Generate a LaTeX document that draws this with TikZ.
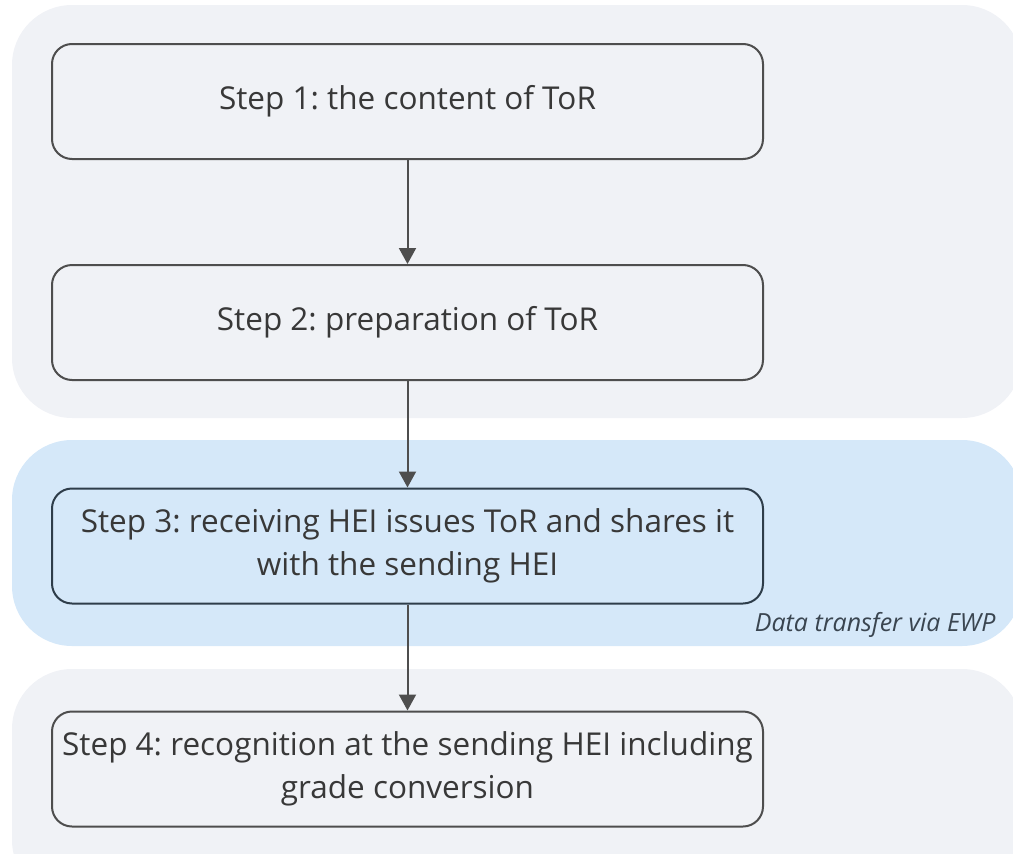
\documentclass[tikz,border=0pt]{standalone}
\usepackage{fontspec}
\setmainfont{Open Sans}
\frenchspacing
\usetikzlibrary{arrows.meta}
\definecolor{panelgray}{HTML}{F0F2F6}
\definecolor{panelblue}{HTML}{D5E8F9}
\definecolor{boxline}{HTML}{4E4E4E}
\definecolor{boxlineblue}{HTML}{2E3D4A}
\definecolor{steptext}{HTML}{383838}
\definecolor{notetext}{HTML}{3A4550}
\begin{document}
\begin{tikzpicture}[x=1pt, y=1pt, node distance=222pt, stepbox/.style={rectangle, rounded corners=20pt, draw=boxline, line width=2pt, minimum width=711pt, minimum height=115pt, align=center, text=steptext, font={\fontsize{31.5}{43}\selectfont}}, panel/.style={rounded corners=60pt}, flow/.style={draw=boxline, line width=2pt, -{Triangle[width=17pt, length=16pt]}}]
  \useasboundingbox (0,0) rectangle (1013,-854);

  % background panels
  \fill[panel, panelgray] (12,-5) rectangle (1022,-418);
  \fill[panel, panelblue] (12,-440) rectangle (1022,-646);
  \fill[panel, panelgray] (12,-669) rectangle (1022,-900);

  \node[stepbox, fill=panelgray] (tor1) at (407.5,-101.5) {Step 1: the content of ToR};
  \node[stepbox, fill=panelgray, below of=tor1, node distance=221pt] (tor2) {Step 2: preparation of ToR};
  \node[stepbox, fill=panelblue, draw=boxlineblue, below of=tor2, node distance=223.5pt] (tor3) {Step 3: receiving HEI issues ToR and shares it\\with the sending HEI};
  \node[stepbox, fill=panelgray, below of=tor3, node distance=223pt] (tor4) {Step 4: recognition at the sending HEI including\\grade conversion};
  \node[anchor=east, text=notetext, font={\fontsize{25}{28}\selectfont\itshape}] (ewp) at (999,-625) {Data transfer via EWP};

  \draw[flow] (tor1) -- (tor2);
  \draw[flow] (tor2) -- (tor3);
  \draw[flow] (tor3) -- (tor4);

\end{tikzpicture}
\end{document}
